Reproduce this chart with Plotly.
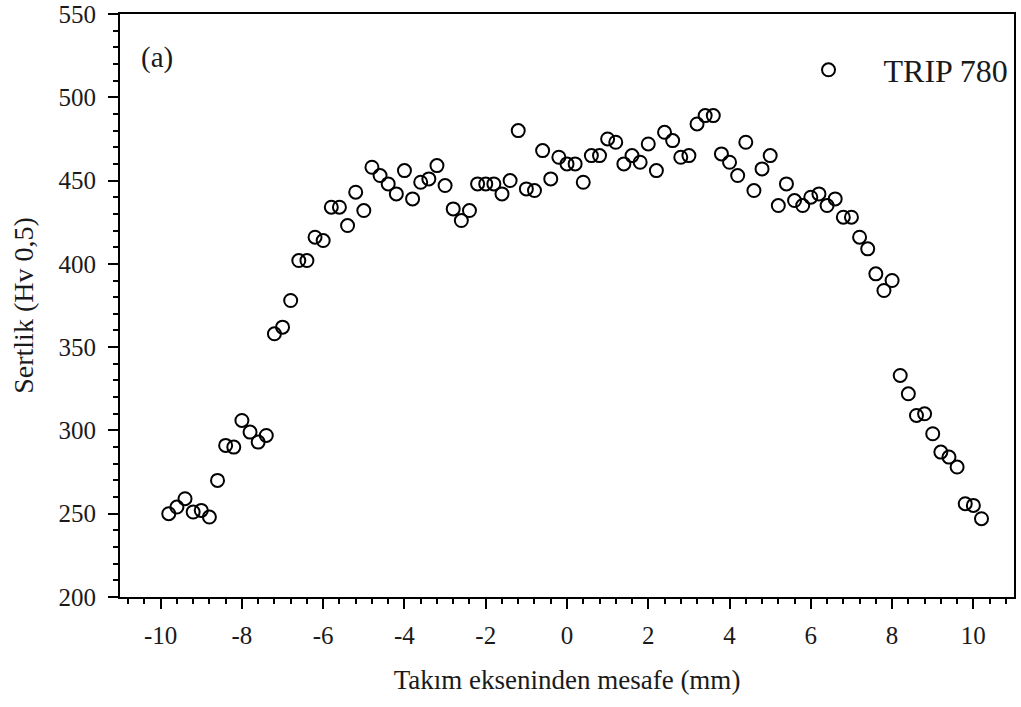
import plotly.graph_objects as go

distance_mm = [-9.8, -9.6, -9.4, -9.2, -9.0, -8.8, -8.6, -8.4, -8.2, -8.0,
               -7.8, -7.6, -7.4, -7.2, -7.0, -6.8, -6.6, -6.4, -6.2, -6.0,
               -5.8, -5.6, -5.4, -5.2, -5.0, -4.8, -4.6, -4.4, -4.2, -4.0,
               -3.8, -3.6, -3.4, -3.2, -3.0, -2.8, -2.6, -2.4, -2.2, -2.0,
               -1.8, -1.6, -1.4, -1.2, -1.0, -0.8, -0.6, -0.4, -0.2, 0.0,
               0.2, 0.4, 0.6, 0.8, 1.0, 1.2, 1.4, 1.6, 1.8, 2.0,
               2.2, 2.4, 2.6, 2.8, 3.0, 3.2, 3.4, 3.6, 3.8, 4.0,
               4.2, 4.4, 4.6, 4.8, 5.0, 5.2, 5.4, 5.6, 5.8, 6.0,
               6.2, 6.4, 6.6, 6.8, 7.0, 7.2, 7.4, 7.6, 7.8, 8.0,
               8.2, 8.4, 8.6, 8.8, 9.0, 9.2, 9.4, 9.6, 9.8, 10.0, 10.2]

hardness_hv = [250, 254, 259, 251, 252, 248, 270, 291, 290, 306,
               299, 293, 297, 358, 362, 378, 402, 402, 416, 414,
               434, 434, 423, 443, 432, 458, 453, 448, 442, 456,
               439, 449, 451, 459, 447, 433, 426, 432, 448, 448,
               448, 442, 450, 480, 445, 444, 468, 451, 464, 460,
               460, 449, 465, 465, 475, 473, 460, 465, 461, 472,
               456, 479, 474, 464, 465, 484, 489, 489, 466, 461,
               453, 473, 444, 457, 465, 435, 448, 438, 435, 440,
               442, 435, 439, 428, 428, 416, 409, 394, 384, 390,
               333, 322, 309, 310, 298, 287, 284, 278, 256, 255, 247]

x_tick_vals = [-10, -8, -6, -4, -2, 0, 2, 4, 6, 8, 10]
x_tick_text = ["-10", "-8", "-6", "-4", "-2", "0", "2", "4", "6", "8", "10"]
y_tick_vals = [200, 250, 300, 350, 400, 450, 500, 550]
y_tick_text = ["200", "250", "300", "350", "400", "450", "500", "550"]

series_name = "TRIP 780"
x_title = "Takım ekseninden mesafe (mm)"
y_title = "Sertlik (Hv 0,5)"
panel_label = "(a)"

FONT = "Liberation Serif"
TXT = "#1a1a1a"

fig = go.Figure()
fig.add_trace(go.Scatter(
    x=distance_mm, y=hardness_hv, mode="markers", name=series_name,
    marker=dict(symbol="circle-open", size=13, color="black",
                line=dict(width=2, color="black")),
))

axis_common = dict(
    showline=True, linecolor="black", linewidth=2, mirror=True,
    ticks="outside", ticklen=10, tickwidth=2, tickcolor="black",
    showgrid=False, zeroline=False, automargin=False,
    ticklabeloverflow="allow",
    tickfont=dict(family=FONT, size=25, color=TXT),
)

fig.update_xaxes(
    range=[-11, 11], tickmode="array", tickvals=x_tick_vals, ticktext=x_tick_text,
    minor=dict(ticks="outside", dtick=0.4, tick0=-10, ticklen=5, tickwidth=2, tickcolor="black"),
    title=dict(text=x_title, font=dict(family=FONT, size=27, color=TXT), standoff=22),
    ticklabelstandoff=5,
    **axis_common,
)
fig.update_yaxes(
    range=[200, 550], tickmode="array", tickvals=y_tick_vals, ticktext=y_tick_text,
    minor=dict(ticks="outside", dtick=10, tick0=200, ticklen=5, tickwidth=2, tickcolor="black"),
    title=dict(text=y_title, font=dict(family=FONT, size=28, color=TXT), standoff=17),
    ticklabelstandoff=7,
    **axis_common,
)

fig.add_annotation(text=panel_label, xref="paper", yref="paper", x=0.021, y=0.926,
                   xanchor="left", yanchor="middle", showarrow=False,
                   font=dict(family=FONT, size=29, color=TXT))

fig.update_layout(
    width=1021, height=707,
    margin=dict(l=120, r=7, t=14, b=110),
    paper_bgcolor="white", plot_bgcolor="white",
    showlegend=True,
    legend=dict(x=0.731, y=0.904, xanchor="left", yanchor="middle",
                itemwidth=100, bgcolor="rgba(0,0,0,0)",
                font=dict(family=FONT, size=32, color=TXT)),
)

fig.write_html("out.html", config={"displayModeBar": False},
               post_script="document.body.style.margin='0';")
